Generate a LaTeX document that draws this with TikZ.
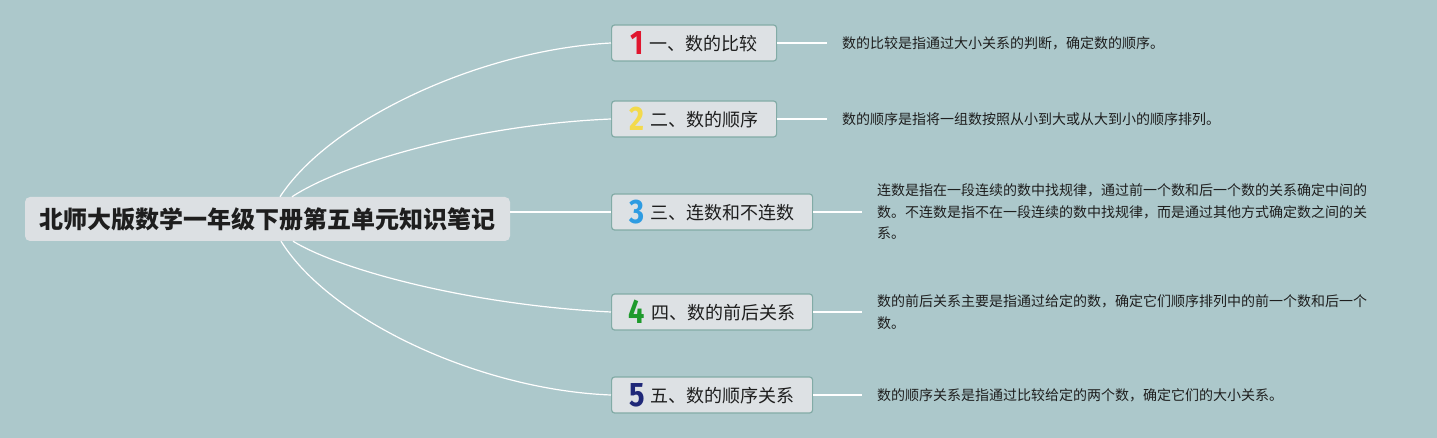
\documentclass[tikz,border=0pt]{standalone}
\usepackage{fontspec}
\setmainfont{Noto Sans CJK SC}
\newfontfamily\numfont{Fira Sans}
\definecolor{bgc}{HTML}{ACC8CB}
\definecolor{boxfill}{HTML}{DDE1E4}
\definecolor{boxline}{HTML}{82ABA6}
\definecolor{rootfill}{HTML}{DCE0E3}
\definecolor{txt}{HTML}{1E1E1E}
\definecolor{n1}{HTML}{E0162E}
\definecolor{n2}{HTML}{F3DA4C}
\definecolor{n3}{HTML}{2E9CE2}
\definecolor{n4}{HTML}{1E9A2C}
\definecolor{n5}{HTML}{1F2878}
\newcommand{\bignum}[2]{\raisebox{-4pt}{\scalebox{0.85}[1]{\numfont\bfseries\fontsize{34}{34}\selectfont\color{#1}#2}}\hspace{6pt}}
\tikzset{
  rootbox/.style={fill=rootfill, rounded corners=5pt, minimum width=485pt, minimum height=44pt, inner sep=0pt,
    font=\bfseries\fontsize{24}{28}\selectfont, text=txt},
  topicbox/.style={draw=boxline, line width=1.2pt, fill=boxfill, rounded corners=3pt, minimum height=36pt,
    inner sep=0pt, anchor=west, font=\fontsize{18}{22}\selectfont, text=txt},
  descbox/.style={anchor=west, inner sep=0pt, align=left, font=\fontsize{14}{21.5}\selectfont, text=txt},
  branch/.style={draw=white, line width=1.2pt},
}
\begin{document}
\begin{tikzpicture}[x=1pt,y=-1pt]
\useasboundingbox[fill=bgc] (0,0) rectangle (1437,438);
\node[rootbox] (root) at (267.5,219) {北师大版数学一年级下册第五单元知识笔记};
\node[topicbox, minimum width=165pt] (c1) at (611,43) {\bignum{n1}{1}一、数的比较};
\node[topicbox, minimum width=165pt] (c2) at (611,119) {\bignum{n2}{2}二、数的顺序};
\node[topicbox, minimum width=201pt] (c3) at (611,212) {\bignum{n3}{3}三、连数和不连数};
\node[topicbox, minimum width=201pt] (c4) at (611,312) {\bignum{n4}{4}四、数的前后关系};
\node[topicbox, minimum width=201pt] (c5) at (611,395) {\bignum{n5}{5}五、数的顺序关系};
\node[descbox] (d1) at (842,43) {数的比较是指通过大小关系的判断，确定数的顺序。};
\node[descbox] (d2) at (842,119) {数的顺序是指将一组数按照从小到大或从大到小的顺序排列。};
\node[descbox] (d3) at (877,212) {连数是指在一段连续的数中找规律，通过前一个数和后一个数的关系确定中间的\\数。不连数是指不在一段连续的数中找规律，而是通过其他方式确定数之间的关\\系。};
\node[descbox] (d4) at (877,312) {数的前后关系主要是指通过给定的数，确定它们顺序排列中的前一个数和后一个\\数。};
\node[descbox] (d5) at (877,395) {数的顺序关系是指通过比较给定的两个数，确定它们的大小关系。};
% branches from root
\draw[branch] ([xshift=12.5pt]root.north) .. controls (330,120) and (480,50) .. (c1.west);
\draw[branch] ([xshift=24.5pt]root.north) .. controls (340,165) and (470,125) .. (c2.west);
\draw[branch] (root.east |- c3.west) -- (c3.west);
\draw[branch] ([xshift=25.5pt]root.south) .. controls (340,270) and (470,305) .. (c4.west);
\draw[branch] ([xshift=13.5pt]root.south) .. controls (330,320) and (480,390) .. (c5.west);
% leaders to descriptions
\foreach \i in {1,...,5}{
  \draw[branch] (c\i.east) -- ([xshift=-15pt]d\i.west);
}
\end{tikzpicture}
\end{document}
